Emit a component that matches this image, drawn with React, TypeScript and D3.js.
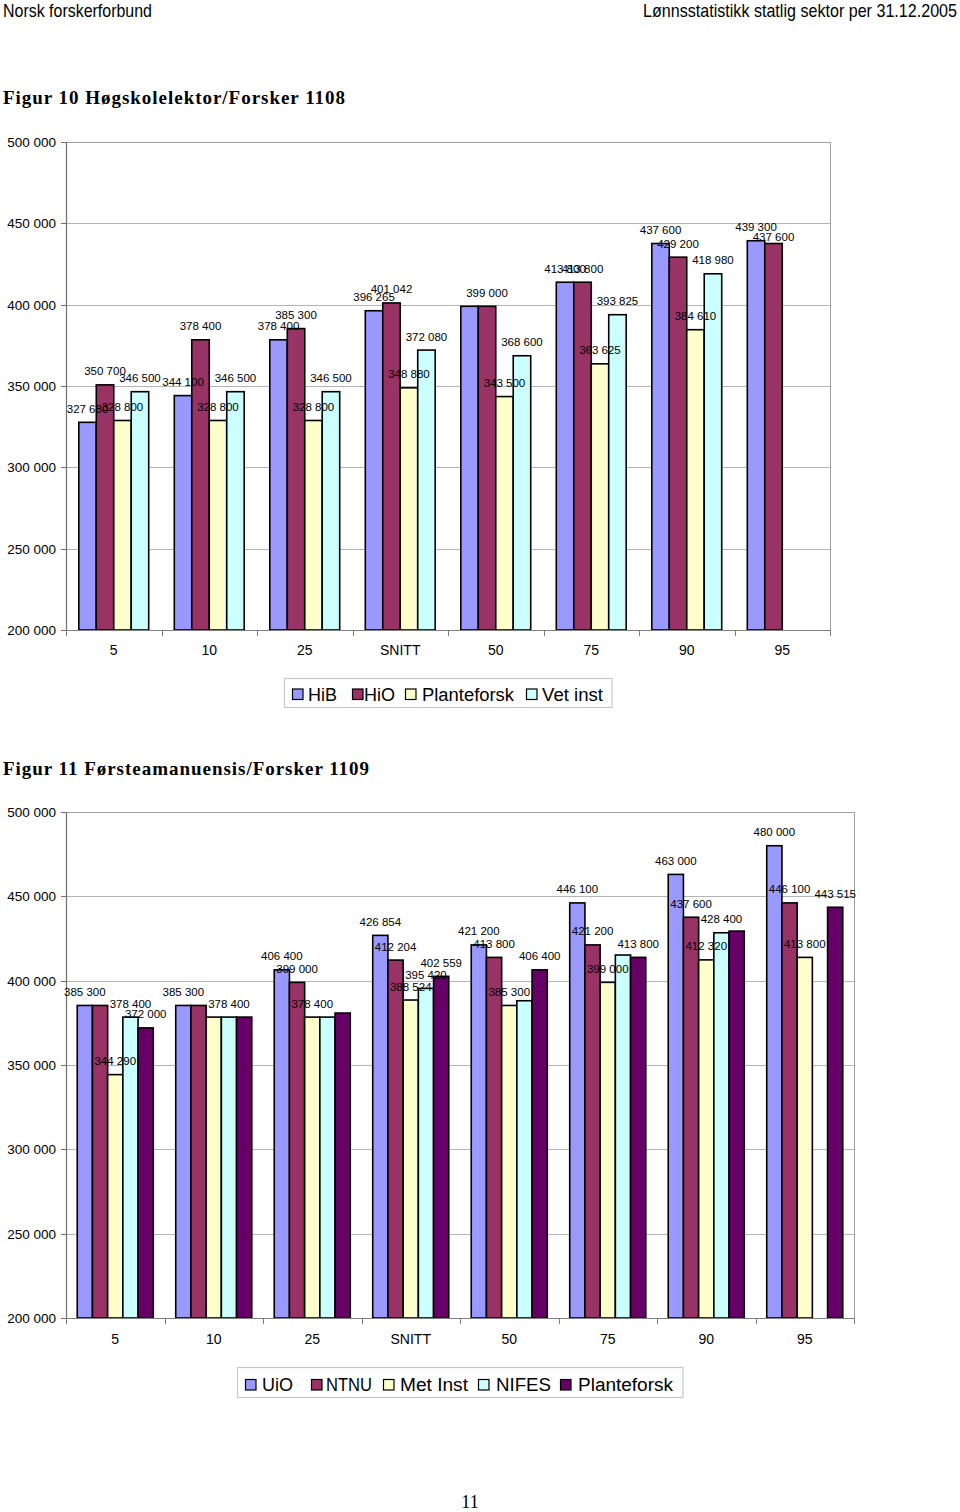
import React, { useEffect, useRef } from "react";
import * as d3 from "d3";

// ---------- DATA ----------
const categories = ["5", "10", "25", "SNITT", "50", "75", "90", "95"];
const yTicks = [200000, 250000, 300000, 350000, 400000, 450000, 500000];

// Figur 10
const fig10Names = ["HiB", "HiO", "Planteforsk", "Vet inst"];
const fig10HiB = [327680, 344100, 378400, 396265, 399000, 413800, 437600, 439300];
const fig10HiO = [350700, 378400, 385300, 401042, 399000, 413800, 429200, 437600];
const fig10Plante = [328800, 328800, 328800, 348880, 343500, 363625, 384610, null];
const fig10Vet = [346500, 346500, 346500, 372080, 368600, 393825, 418980, null];
// which data labels are shown (1) / hidden (0)
const fig10HiBShow = [1, 1, 1, 1, 0, 1, 1, 1];
const fig10HiOShow = [1, 1, 1, 1, 1, 1, 1, 1];
const fig10PlanteShow = [1, 1, 1, 1, 1, 1, 1, 0];
const fig10VetShow = [1, 1, 1, 1, 1, 1, 1, 0];

// Figur 11
const fig11Names = ["UiO", "NTNU", "Met Inst", "NIFES", "Planteforsk"];
const fig11UiO = [385300, 385300, 406400, 426854, 421200, 446100, 463000, 480000];
const fig11NTNU = [385300, 385300, 399000, 412204, 413800, 421200, 437600, 446100];
const fig11Met = [344290, 378400, 378400, 388524, 385300, 399000, 412320, 413800];
const fig11NIFES = [378400, 378400, 378400, 395420, 388100, 415200, 428400, null];
const fig11Plante = [372000, 378400, 380800, 402559, 406400, 413800, 429400, 443515];
const fig11UiOShow = [1, 1, 1, 1, 1, 1, 1, 1];
const fig11NTNUShow = [0, 0, 1, 1, 1, 1, 1, 1];
const fig11MetShow = [1, 0, 1, 1, 1, 1, 1, 1];
const fig11NIFESShow = [1, 1, 0, 1, 0, 0, 1, 0];
const fig11PlanteShow = [1, 0, 0, 1, 1, 1, 0, 1];

// ---------- STYLE ----------
const C_BLUE = "#9999FF";
const C_PLUM = "#993366";
const C_IVORY = "#FFFFCC";
const C_CYAN = "#CCFFFF";
const C_PURPLE = "#660066";
const SANS = "'Liberation Sans', Arial, Helvetica, sans-serif";
const SERIF = "'Liberation Serif', 'Times New Roman', Times, serif";

const fmt = d3.formatLocale({ decimal: ",", thousands: " ", grouping: [3], currency: ["", ""] }).format(",d");

type Series = { name: string; color: string; values: (number | null)[]; show: number[] };

const fig10: Series[] = [
  { name: fig10Names[0], color: C_BLUE, values: fig10HiB, show: fig10HiBShow },
  { name: fig10Names[1], color: C_PLUM, values: fig10HiO, show: fig10HiOShow },
  { name: fig10Names[2], color: C_IVORY, values: fig10Plante, show: fig10PlanteShow },
  { name: fig10Names[3], color: C_CYAN, values: fig10Vet, show: fig10VetShow },
];
const fig11: Series[] = [
  { name: fig11Names[0], color: C_BLUE, values: fig11UiO, show: fig11UiOShow },
  { name: fig11Names[1], color: C_PLUM, values: fig11NTNU, show: fig11NTNUShow },
  { name: fig11Names[2], color: C_IVORY, values: fig11Met, show: fig11MetShow },
  { name: fig11Names[3], color: C_CYAN, values: fig11NIFES, show: fig11NIFESShow },
  { name: fig11Names[4], color: C_PURPLE, values: fig11Plante, show: fig11PlanteShow },
];

type Cfg = {
  series: Series[];
  left: number; right: number; top: number; bottom: number;
  groupFrac: number;
  xLabelY: number;
  nudge: Record<string, number>;
  legend: { box: [number, number, number, number]; sq: number[]; tx: number[]; tw: number[]; sqY: number; base: number };
};

const cfg10: Cfg = {
  series: fig10, left: 66, right: 830, top: 142, bottom: 630, groupFrac: 0.732, xLabelY: 655,
  nudge: { "1-7": 7 },
  legend: { box: [284.5, 678.5, 612, 707.5], sq: [292, 352, 405, 526], tx: [308, 364, 422, 542], tw: [29, 31, 92, 61], sqY: 688.5, base: 700.5 },
};
const cfg11: Cfg = {
  series: fig11, left: 66, right: 854, top: 812, bottom: 1318, groupFrac: 0.772, xLabelY: 1344,
  nudge: {},
  legend: { box: [237.5, 1367.5, 683, 1397.5], sq: [245, 311, 383, 478, 560], tx: [262, 326, 400, 496, 578], tw: [31, 46, 68, 55, 95], sqY: 1379, base: 1390.5 },
};

function drawChart(svg: d3.Selection<SVGSVGElement, unknown, null, undefined>, cfg: Cfg) {
  const g = svg.append("g");
  const x = d3.scaleBand<string>().domain(categories).range([cfg.left, cfg.right]);
  const step = x.step();
  const gw = step * cfg.groupFrac;
  const inner = d3.scaleBand<string>().domain(cfg.series.map((s) => s.name)).range([(step - gw) / 2, (step + gw) / 2]);
  const y = d3.scaleLinear().domain([200000, 500000]).range([cfg.bottom, cfg.top]);

  // gridlines
  g.selectAll("line.grid").data(yTicks).join("line")
    .attr("x1", cfg.left).attr("x2", cfg.right)
    .attr("y1", (d) => Math.round(y(d)) + 0.5).attr("y2", (d) => Math.round(y(d)) + 0.5)
    .attr("stroke", "#b4b4b4").attr("stroke-width", 1);
  // frame
  g.append("rect").attr("x", cfg.left + 0.5).attr("y", cfg.top + 0.5)
    .attr("width", cfg.right - cfg.left).attr("height", cfg.bottom - cfg.top)
    .attr("fill", "none").attr("stroke", "#a0a0a0").attr("stroke-width", 1);

  // bars
  cfg.series.forEach((s) => {
    const data = categories.map((c, i) => ({ c, v: s.values[i] })).filter((d) => d.v != null) as { c: string; v: number }[];
    g.selectAll(null).data(data).join("rect")
      .attr("x", (d) => (x(d.c) as number) + (inner(s.name) as number))
      .attr("y", (d) => y(d.v))
      .attr("width", inner.bandwidth())
      .attr("height", (d) => y(200000) - y(d.v))
      .attr("fill", s.color).attr("stroke", "#000").attr("stroke-width", 1.6);
  });

  // axes
  g.append("line").attr("x1", cfg.left + 0.5).attr("x2", cfg.left + 0.5).attr("y1", cfg.top).attr("y2", cfg.bottom)
    .attr("stroke", "#707070").attr("stroke-width", 1.2);
  g.append("line").attr("x1", cfg.left).attr("x2", cfg.right).attr("y1", cfg.bottom + 0.5).attr("y2", cfg.bottom + 0.5)
    .attr("stroke", "#808080").attr("stroke-width", 1.2);
  g.selectAll(null).data(yTicks).join("line")
    .attr("x1", cfg.left - 5).attr("x2", cfg.left)
    .attr("y1", (d) => Math.round(y(d)) + 0.5).attr("y2", (d) => Math.round(y(d)) + 0.5)
    .attr("stroke", "#707070");
  g.selectAll(null).data(yTicks).join("text")
    .attr("x", cfg.left - 10).attr("y", (d) => y(d) + 5)
    .attr("text-anchor", "end").attr("font-family", SANS).attr("font-size", 13.5).attr("fill", "#000")
    .text((d) => fmt(d));
  const bounds = categories.map((c) => x(c) as number).concat([cfg.right]);
  g.selectAll(null).data(bounds).join("line")
    .attr("x1", (d) => Math.round(d) + 0.5).attr("x2", (d) => Math.round(d) + 0.5)
    .attr("y1", cfg.bottom).attr("y2", cfg.bottom + 6)
    .attr("stroke", "#808080");
  g.selectAll(null).data(categories).join("text")
    .attr("x", (d) => (x(d) as number) + step / 2).attr("y", cfg.xLabelY)
    .attr("text-anchor", "middle").attr("font-family", SANS).attr("font-size", 14).attr("fill", "#000")
    .text((d) => d);

  // data labels
  cfg.series.forEach((s, si) => {
    const data = categories.map((c, i) => ({ c, i, v: s.values[i], show: s.show[i] }))
      .filter((d) => d.v != null && d.show) as { c: string; i: number; v: number }[];
    g.selectAll(null).data(data).join("text")
      .attr("x", (d) => (x(d.c) as number) + (inner(s.name) as number) + inner.bandwidth() / 2)
      .attr("y", (d) => y(d.v) - 9.5 + (cfg.nudge[`${si}-${d.i}`] || 0))
      .attr("text-anchor", "middle").attr("font-family", SANS).attr("font-size", 11.5).attr("fill", "#000")
      .text((d) => fmt(d.v));
  });

  // legend
  const L = cfg.legend;
  g.append("rect").attr("x", L.box[0]).attr("y", L.box[1])
    .attr("width", L.box[2] - L.box[0]).attr("height", L.box[3] - L.box[1])
    .attr("fill", "#fff").attr("stroke", "#c8c8c8").attr("stroke-width", 1.2);
  cfg.series.forEach((s, i) => {
    g.append("rect").attr("x", L.sq[i] + 0.5).attr("y", L.sqY + 0.5).attr("width", 10.5).attr("height", 10.5)
      .attr("fill", s.color).attr("stroke", "#000").attr("stroke-width", 1.2);
    g.append("text").attr("x", L.tx[i]).attr("y", L.base)
      .attr("font-family", SANS).attr("font-size", 18).attr("fill", "#000")
      .attr("textLength", L.tw[i]).attr("lengthAdjust", "spacingAndGlyphs")
      .text(s.name);
  });
}

export default function App() {
  const ref = useRef<SVGSVGElement | null>(null);
  useEffect(() => {
    if (!ref.current) return;
    const svg = d3.select(ref.current);
    svg.selectAll("*").remove();
    svg.append("rect").attr("width", 960).attr("height", 1512).attr("fill", "#fff");

    // page header
    svg.append("text").attr("x", 3).attr("y", 17).attr("font-family", SANS).attr("font-size", 19)
      .attr("textLength", 149).attr("lengthAdjust", "spacingAndGlyphs").text("Norsk forskerforbund");
    svg.append("text").attr("x", 643).attr("y", 17).attr("font-family", SANS).attr("font-size", 19)
      .attr("textLength", 314).attr("lengthAdjust", "spacingAndGlyphs").text("Lønnsstatistikk statlig sektor per 31.12.2005");

    // titles
    svg.append("text").attr("x", 3).attr("y", 104).attr("font-family", SERIF).attr("font-weight", "bold")
      .attr("font-size", 19).attr("textLength", 342).attr("lengthAdjust", "spacing")
      .text("Figur 10 Høgskolelektor/Forsker 1108");
    svg.append("text").attr("x", 3).attr("y", 775).attr("font-family", SERIF).attr("font-weight", "bold")
      .attr("font-size", 19).attr("textLength", 366).attr("lengthAdjust", "spacing")
      .text("Figur 11 Førsteamanuensis/Forsker 1109");

    drawChart(svg, cfg10);
    drawChart(svg, cfg11);

    // page number
    svg.append("text").attr("x", 470).attr("y", 1508).attr("text-anchor", "middle")
      .attr("font-family", SERIF).attr("font-size", 18).text("11");
  }, []);
  return (
    <div style={{ position: "absolute", left: 0, top: 0 }}>
      <svg ref={ref} width={960} height={1512} style={{ display: "block" }} />
    </div>
  );
}
